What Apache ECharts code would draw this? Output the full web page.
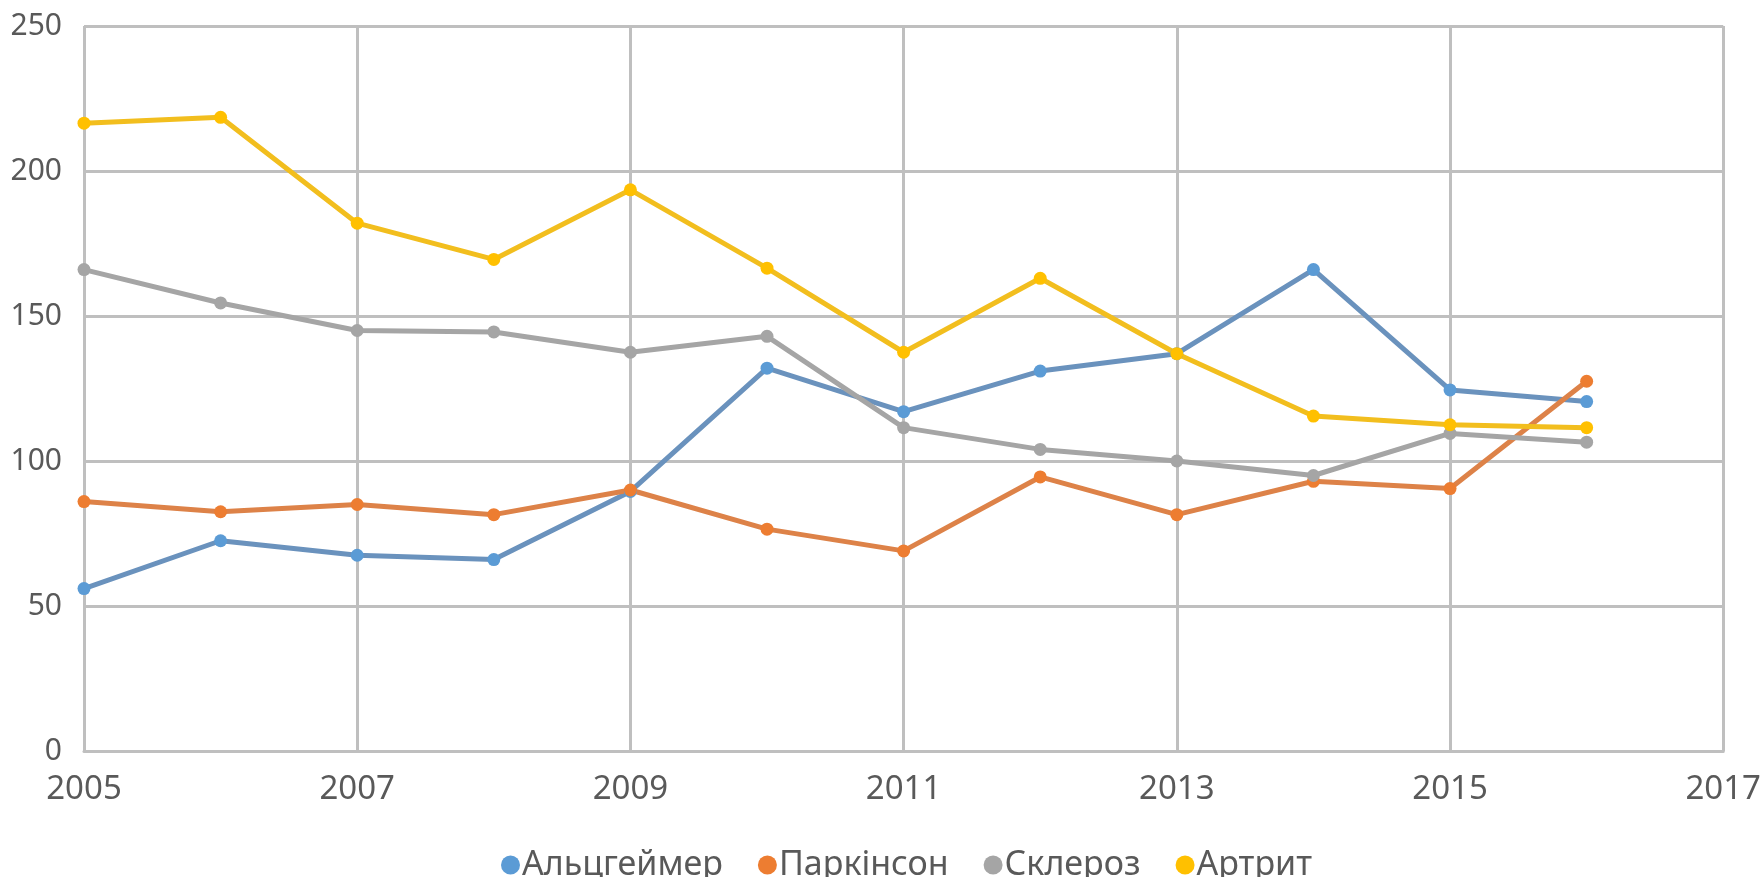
<!DOCTYPE html>
<html>
<head>
<meta charset="utf-8">
<script src="https://cdn.jsdelivr.net/npm/echarts@6/dist/echarts.min.js"></script>
<style>html,body{margin:0;padding:0;background:#fff;}#c{width:1764px;height:877px;}</style>
</head>
<body>
<div id="c"></div>
<script>
const years = ['2005','2006','2007','2008','2009','2010','2011','2012','2013','2014','2015','2016','2017'];
const seriesNames = ['Альцгеймер','Паркінсон','Склероз','Артрит'];
const alzheimer = [56, 72.5, 67.5, 66, 89.5, 132, 117, 131, 137, 166, 124.5, 120.5];
const parkinson = [86, 82.5, 85, 81.5, 90, 76.5, 69, 94.5, 81.5, 93, 90.5, 127.5];
const sclerosis = [166, 154.5, 145, 144.5, 137.5, 143, 111.5, 104, 100, 95, 109.5, 106.5];
const arthritis = [216.5, 218.5, 182, 169.5, 193.5, 166.5, 137.5, 163, 137, 115.5, 112.5, 111.5];
const markerColors = ['#5B9BD5','#ED7D31','#A5A5A5','#FFC000'];
const lineColors = ['#6A92BD','#DD8248','#A5A5A5','#F2BE1E'];
const values = [alzheimer, parkinson, sclerosis, arthritis];

const chart = echarts.init(document.getElementById('c'));
const font = 'Noto Sans';
chart.setOption({
  animation: false,
  backgroundColor: '#fff',
  grid: {left: 84, right: 39, top: 26, bottom: 126, containLabel: false},
  legend: {
    data: seriesNames.map((n, i) => ({name: n, icon: 'circle', itemStyle: {color: markerColors[i]}})),
    top: 843, left: 496,
    itemWidth: 19, itemHeight: 19, itemGap: 35,
    textStyle: {fontFamily: font, fontSize: 34, color: '#595959', padding: [0,0,0,-3]}
  },
  xAxis: {
    type: 'category', data: years, boundaryGap: false,
    axisLine: {lineStyle: {color: '#BFBFBF', width: 3}},
    axisTick: {show: false},
    axisLabel: {interval: 1, fontFamily: font, fontSize: 33, color: '#595959', margin: 22},
    splitLine: {show: true, interval: 1, lineStyle: {color: '#BFBFBF', width: 3}}
  },
  yAxis: {
    type: 'value', min: 0, max: 250, interval: 50,
    axisLine: {show: false}, axisTick: {show: false},
    axisLabel: {fontFamily: font, fontSize: 30, color: '#595959', margin: 22},
    splitLine: {lineStyle: {color: '#BFBFBF', width: 3}}
  },
  series: seriesNames.map((n, i) => ({
    name: n, type: 'line', data: values[i],
    symbol: 'circle', symbolSize: 13,
    itemStyle: {color: markerColors[i]},
    lineStyle: {color: lineColors[i], width: 5}
  }))
});
</script>
</body>
</html>
